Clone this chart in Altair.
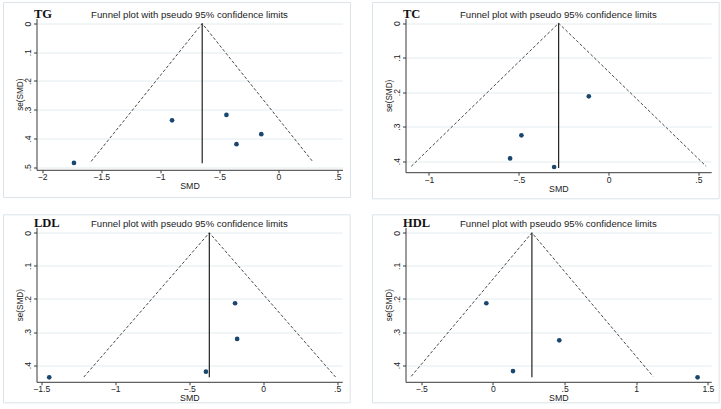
import altair as alt
import pandas as pd

# ---------------- data ----------------
# Study points: SMD (x) and se(SMD) (y)
TG_SMD = [-1.73, -0.90, -0.44, -0.355, -0.145]
TG_SE = [0.485, 0.337, 0.318, 0.420, 0.385]
TC_SMD = [-0.11, -0.485, -0.548, -0.303]
TC_SE = [0.212, 0.325, 0.392, 0.417]
LDL_SMD = [-1.446, -0.387, -0.19, -0.176]
LDL_SE = [0.437, 0.420, 0.213, 0.321]
HDL_SMD = [-0.046, 0.14, 0.463, 1.428]
HDL_SE = [0.213, 0.418, 0.325, 0.437]

# Pseudo 95% confidence limit lines (lower-left end, apex, lower-right end)
TG_FUNNEL_SMD = [-1.585, -0.645, 0.289]
TG_FUNNEL_SE = [0.480, 0.0, 0.480]
TC_FUNNEL_SMD = [-1.098, -0.278, 0.543]
TC_FUNNEL_SE = [0.415, 0.0, 0.415]
LDL_FUNNEL_SMD = [-1.212, -0.364, 0.489]
LDL_FUNNEL_SE = [0.436, 0.0, 0.436]
HDL_FUNNEL_SMD = [-0.57, 0.272, 1.117]
HDL_FUNNEL_SE = [0.434, 0.0, 0.434]

# Pooled estimate (vertical line) and its lower end
TG_POOLED, TG_SE_END = -0.645, 0.486
TC_POOLED, TC_SE_END = -0.278, 0.420
LDL_POOLED, LDL_SE_END = -0.364, 0.437
HDL_POOLED, HDL_SE_END = 0.272, 0.437

# Tick values
TG_XTICKS = [-2, -1.5, -1, -0.5, 0, 0.5]
TC_XTICKS = [-1, -0.5, 0, 0.5]
LDL_XTICKS = [-1.5, -1, -0.5, 0, 0.5]
HDL_XTICKS = [-0.5, 0, 0.5, 1, 1.5]
TG_YTICKS = [0, 0.1, 0.2, 0.3, 0.4, 0.5]
OTHER_YTICKS = [0, 0.1, 0.2, 0.3, 0.4]

TITLE = "Funnel plot with pseudo 95% confidence limits"

LABEL_EXPR = "replace(format(datum.value, '~g'), '0.', '.')"
AXIS_COL = "#3a3a3a"
GRID_COL = "#e3ecef"
BORDER_COL = "#dbe4e8"
POINT_COL = "#1a476f"


def panel(name, smd, se, f_smd, f_se, pooled, se_end, xticks, yticks,
          xdom, ydom, W, H, box):
    bl, br, bt, bb = box
    pts = pd.DataFrame({"SMD": smd, "se": se})
    fun = pd.DataFrame({"SMD": f_smd, "se": f_se, "k": list(range(len(f_smd)))})
    pool = pd.DataFrame({"SMD": [pooled], "se0": [0.0], "se1": [se_end]})
    one = pd.DataFrame({"a": [0]})

    xs = alt.Scale(domain=xdom, nice=False, zero=False)
    ys = alt.Scale(domain=ydom, nice=False, zero=False, reverse=True)

    xaxis = alt.Axis(values=xticks, tickCount=20, labelExpr=LABEL_EXPR, grid=False,
                     tickSize=3, labelPadding=0, labelFontSize=8.6, labelColor="#222",
                     title="SMD", titleFontSize=8.8, titleFontWeight="normal",
                     titleColor="#222", titlePadding=0, minExtent=12, maxExtent=12,
                     domainColor=AXIS_COL, tickColor=AXIS_COL, labelFlush=False,
                     labelOverlap=False)
    yaxis = alt.Axis(values=yticks, tickCount=20, labelExpr=LABEL_EXPR, grid=True,
                     gridColor=GRID_COL, gridWidth=1, tickSize=3, labelPadding=1.5,
                     labelAngle=270, labelAlign="center", labelBaseline="bottom",
                     labelFontSize=8.6, labelColor="#222", title="se(SMD)",
                     titleFontSize=8.2, titleFontWeight="normal", titleColor="#222",
                     titlePadding=0, minExtent=12.5, maxExtent=12.5, domainColor=AXIS_COL,
                     tickColor=AXIS_COL, labelFlush=False, labelOverlap=False)

    base_pts = alt.Chart(pts).mark_circle(size=22, color=POINT_COL, opacity=1).encode(
        x=alt.X("SMD:Q", scale=xs, axis=xaxis),
        y=alt.Y("se:Q", scale=ys, axis=yaxis),
    )
    funnel = alt.Chart(fun).mark_line(color="#333", strokeWidth=0.9,
                                      strokeDash=[3, 2]).encode(
        x=alt.X("SMD:Q", scale=xs), y=alt.Y("se:Q", scale=ys), order="k:Q")
    rule = alt.Chart(pool).mark_rule(color="#222", strokeWidth=1.2).encode(
        x=alt.X("SMD:Q", scale=xs), y=alt.Y("se0:Q", scale=ys), y2="se1:Q")
    border = alt.Chart(one).mark_rect(fillOpacity=0, stroke=BORDER_COL,
                                      strokeWidth=1).encode(
        x=alt.value(bl), x2=alt.value(W + br), y=alt.value(bt), y2=alt.value(H + bb))
    title = alt.Chart(one).mark_text(text=TITLE, font="Liberation Sans", fontSize=9.6,
                                     color="#222", align="center",
                                     baseline="middle").encode(
        x=alt.value(W / 2), y=alt.value(-4))
    label = alt.Chart(one).mark_text(text=name, font="Liberation Serif", fontSize=12.5,
                                     fontWeight="bold", color="#111", align="left",
                                     baseline="middle").encode(
        x=alt.value(-2.5), y=alt.value(-5))

    return alt.layer(border, funnel, rule, base_pts, title, label).properties(
        width=W, height=H)


tg = panel("TG", TG_SMD, TG_SE, TG_FUNNEL_SMD, TG_FUNNEL_SE, TG_POOLED, TG_SE_END,
           TG_XTICKS, TG_YTICKS, [-2.047, 0.542], [-0.0174, 0.509], 306, 151.3,
           (-33, 8, -16, 27.7))
tc = panel("TC", TC_SMD, TC_SE, TC_FUNNEL_SMD, TC_FUNNEL_SE, TC_POOLED, TC_SE_END,
           TC_XTICKS, OTHER_YTICKS, [-1.130, 0.571], [-0.0136, 0.432], 305.7, 153.7,
           (-33, 8, -16, 26.6))
ldl = panel("LDL", LDL_SMD, LDL_SE, LDL_FUNNEL_SMD, LDL_FUNNEL_SE, LDL_POOLED, LDL_SE_END,
            LDL_XTICKS, OTHER_YTICKS, [-1.532, 0.534], [-0.016, 0.4505], 305.7, 154.3,
            (-33, 8, -12.7, 21))
hdl = panel("HDL", HDL_SMD, HDL_SE, HDL_FUNNEL_SMD, HDL_FUNNEL_SE, HDL_POOLED, HDL_SE_END,
            HDL_XTICKS, OTHER_YTICKS, [-0.61, 1.523], [-0.016, 0.4505], 305.7, 154.3,
            (-33, 8, -12.7, 21))

chart = alt.vconcat(
    alt.hconcat(tg, tc, spacing=20),
    alt.hconcat(ldl, hdl, spacing=20),
    spacing=13,
).properties(
    padding={"left": 2.5, "top": 1.5, "right": 0, "bottom": 0},
    background="white",
).configure_view(stroke="transparent").configure_axis(
    labelFont="Liberation Sans", titleFont="Liberation Sans", domainWidth=1, tickWidth=1
)

chart.save("out.html", embed_options={"renderer": "svg", "actions": False})
